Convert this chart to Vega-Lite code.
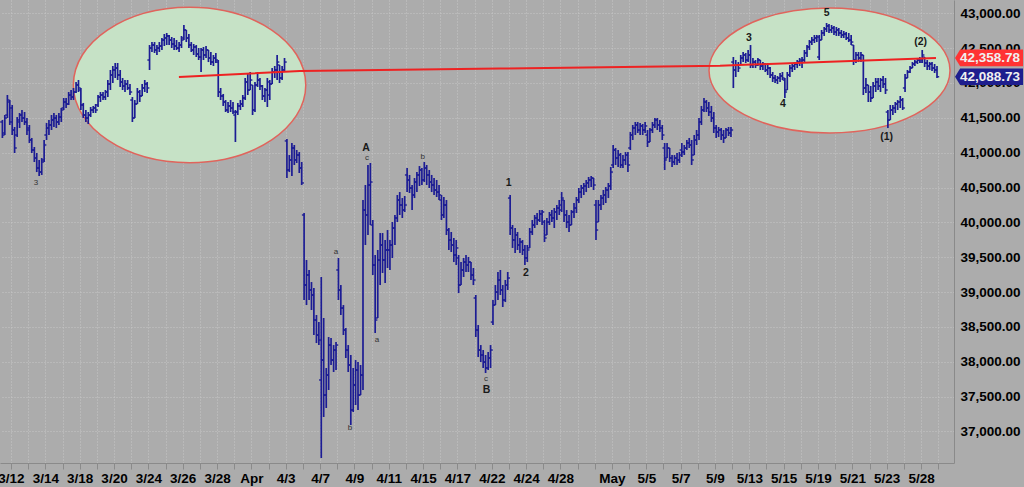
{
"$schema":"https://vega.github.io/schema/vega-lite/v6.json",
"width":954,"height":463,
"autosize":{"type":"none"},
"padding":{"left":0,"top":0,"right":70,"bottom":24},
"background":"#acacac",
"config":{"view":{"stroke":null},"font":"Liberation Sans"},
"datasets":{
"ellL":[{"t":10.4,"p":41971}],
"ellR":[{"t":47.67,"p":42179}],
"trend":[{"t":9.78,"p":42085},{"t":16.83,"p":42171},{"t":28.48,"p":42207},{"t":41.29,"p":42247},{"t":47.7,"p":42305},{"t":53.87,"p":42359}],
"big":[{"t":20.68,"p":41067,"s":"A"},{"t":28.99,"p":40565,"s":"1"},{"t":29.99,"p":39274,"s":"2"},{"t":27.7,"p":37595,"s":"B"},{"t":42.98,"p":42645,"s":"3"},{"t":44.96,"p":41698,"s":"4"},{"t":47.51,"p":43003,"s":"5"},{"t":51.0,"p":41225,"s":"(1)"},{"t":52.98,"p":42587,"s":"(2)"}],
"small":[{"t":1.46,"p":40565,"s":"3"},{"t":20.73,"p":40923,"s":"c"},{"t":18.93,"p":39575,"s":"a"},{"t":19.74,"p":37050,"s":"b"},{"t":21.32,"p":38312,"s":"a"},{"t":23.98,"p":40938,"s":"b"},{"t":27.66,"p":37753,"s":"c"}],
"tags":[{"p":42358.78,"s":"42,358.78","k":"trend"},{"p":42088.73,"s":"42,088.73","k":"last"}],
"bars":[
{"t":-0.5,"o":41440,"h":41469,"l":41210,"c":41253},{"t":-0.36,"o":41282,"h":41540,"l":41253,"c":41497},{"t":-0.21,"o":41540,"h":41827,"l":41497,"c":41755},{"t":-0.07,"o":41727,"h":41755,"l":41397,"c":41440},
{"t":0.07,"o":41641,"h":41684,"l":41253,"c":41325},{"t":0.21,"o":41325,"h":41368,"l":40995,"c":41067},{"t":0.36,"o":41253,"h":41511,"l":41225,"c":41469},{"t":0.5,"o":41440,"h":41569,"l":41354,"c":41540},{"t":0.64,"o":41540,"h":41612,"l":41440,"c":41497},{"t":0.79,"o":41497,"h":41583,"l":41397,"c":41440},{"t":0.93,"o":41440,"h":41497,"l":41253,"c":41325},
{"t":1.07,"o":41354,"h":41397,"l":41139,"c":41182},{"t":1.21,"o":41182,"h":41211,"l":40995,"c":41038},{"t":1.36,"o":41038,"h":41081,"l":40866,"c":40923},{"t":1.5,"o":40923,"h":40995,"l":40722,"c":40780},{"t":1.64,"o":40780,"h":40895,"l":40665,"c":40722},{"t":1.79,"o":40722,"h":40923,"l":40680,"c":40866},{"t":1.93,"o":40895,"h":41182,"l":40866,"c":41110},
{"t":2.07,"o":41253,"h":41426,"l":41182,"c":41354},{"t":2.21,"o":41354,"h":41469,"l":41253,"c":41397},{"t":2.36,"o":41397,"h":41540,"l":41325,"c":41469},{"t":2.5,"o":41469,"h":41569,"l":41368,"c":41497},{"t":2.64,"o":41497,"h":41540,"l":41354,"c":41440},{"t":2.79,"o":41440,"h":41569,"l":41397,"c":41511},{"t":2.93,"o":41511,"h":41641,"l":41440,"c":41612},
{"t":3.07,"o":41641,"h":41784,"l":41612,"c":41727},{"t":3.21,"o":41727,"h":41784,"l":41641,"c":41698},{"t":3.36,"o":41698,"h":41870,"l":41684,"c":41827},{"t":3.5,"o":41827,"h":41899,"l":41755,"c":41798},{"t":3.64,"o":41798,"h":41928,"l":41755,"c":41870},{"t":3.79,"o":41870,"h":42014,"l":41856,"c":41971},{"t":3.93,"o":41971,"h":42042,"l":41870,"c":41928},
{"t":4.07,"o":41899,"h":41928,"l":41612,"c":41684},{"t":4.21,"o":41684,"h":41713,"l":41497,"c":41540},{"t":4.36,"o":41540,"h":41612,"l":41440,"c":41497},{"t":4.5,"o":41497,"h":41583,"l":41411,"c":41540},{"t":4.64,"o":41540,"h":41655,"l":41511,"c":41612},{"t":4.79,"o":41612,"h":41670,"l":41569,"c":41641},{"t":4.93,"o":41641,"h":41698,"l":41569,"c":41612},
{"t":5.07,"o":41684,"h":41827,"l":41655,"c":41798},{"t":5.21,"o":41798,"h":41870,"l":41727,"c":41827},{"t":5.36,"o":41827,"h":41870,"l":41755,"c":41798},{"t":5.5,"o":41798,"h":41899,"l":41755,"c":41870},{"t":5.64,"o":41870,"h":42042,"l":41798,"c":41985},{"t":5.79,"o":41985,"h":42186,"l":41899,"c":42114},{"t":5.93,"o":42114,"h":42243,"l":41999,"c":42186},
{"t":6.07,"o":42186,"h":42286,"l":42071,"c":42214},{"t":6.21,"o":42214,"h":42286,"l":42042,"c":42114},{"t":6.36,"o":42114,"h":42186,"l":41942,"c":42014},{"t":6.5,"o":42014,"h":42071,"l":41899,"c":41956},{"t":6.64,"o":41956,"h":42042,"l":41870,"c":41985},{"t":6.79,"o":41985,"h":42042,"l":41899,"c":41928},{"t":6.93,"o":41928,"h":41985,"l":41827,"c":41870},
{"t":7.07,"o":41755,"h":41798,"l":41440,"c":41497},{"t":7.21,"o":41497,"h":41755,"l":41497,"c":41698},{"t":7.36,"o":41698,"h":41928,"l":41698,"c":41870},{"t":7.5,"o":41870,"h":41899,"l":41727,"c":41813},{"t":7.64,"o":41813,"h":41985,"l":41813,"c":41928},{"t":7.79,"o":41928,"h":42042,"l":41870,"c":41985},{"t":7.93,"o":41985,"h":42014,"l":41856,"c":41928},
{"t":8.07,"o":42329,"h":42544,"l":42186,"c":42501},{"t":8.21,"o":42501,"h":42587,"l":42444,"c":42544},{"t":8.36,"o":42544,"h":42587,"l":42430,"c":42473},{"t":8.5,"o":42473,"h":42544,"l":42401,"c":42501},{"t":8.64,"o":42501,"h":42587,"l":42444,"c":42530},{"t":8.79,"o":42530,"h":42645,"l":42473,"c":42616},{"t":8.93,"o":42616,"h":42702,"l":42530,"c":42645},
{"t":9.07,"o":42645,"h":42717,"l":42544,"c":42674},{"t":9.21,"o":42674,"h":42688,"l":42544,"c":42616},{"t":9.36,"o":42616,"h":42659,"l":42501,"c":42559},{"t":9.5,"o":42559,"h":42645,"l":42473,"c":42530},{"t":9.64,"o":42530,"h":42616,"l":42473,"c":42501},{"t":9.79,"o":42501,"h":42587,"l":42444,"c":42544},{"t":9.93,"o":42544,"h":42674,"l":42501,"c":42616},
{"t":10.07,"o":42645,"h":42831,"l":42616,"c":42760},{"t":10.21,"o":42760,"h":42760,"l":42587,"c":42645},{"t":10.36,"o":42645,"h":42702,"l":42501,"c":42544},{"t":10.5,"o":42544,"h":42587,"l":42444,"c":42473},{"t":10.64,"o":42473,"h":42559,"l":42401,"c":42516},{"t":10.79,"o":42516,"h":42544,"l":42372,"c":42415},{"t":10.93,"o":42415,"h":42501,"l":42329,"c":42372},
{"t":11.07,"o":42372,"h":42501,"l":42157,"c":42473},{"t":11.21,"o":42473,"h":42516,"l":42329,"c":42401},{"t":11.36,"o":42401,"h":42530,"l":42358,"c":42473},{"t":11.5,"o":42473,"h":42473,"l":42300,"c":42358},{"t":11.64,"o":42358,"h":42444,"l":42258,"c":42300},{"t":11.79,"o":42300,"h":42401,"l":42243,"c":42358},{"t":11.93,"o":42358,"h":42430,"l":42286,"c":42329},
{"t":12.07,"o":42300,"h":42329,"l":41798,"c":41870},{"t":12.21,"o":41870,"h":41928,"l":41755,"c":41813},{"t":12.36,"o":41813,"h":41842,"l":41670,"c":41727},{"t":12.5,"o":41727,"h":41755,"l":41583,"c":41612},{"t":12.64,"o":41612,"h":41727,"l":41569,"c":41670},{"t":12.79,"o":41670,"h":41755,"l":41583,"c":41641},{"t":12.93,"o":41641,"h":41727,"l":41554,"c":41583},
{"t":13.07,"o":41540,"h":41612,"l":41153,"c":41583},{"t":13.21,"o":41583,"h":41713,"l":41540,"c":41670},{"t":13.36,"o":41670,"h":41755,"l":41612,"c":41698},{"t":13.5,"o":41698,"h":41827,"l":41655,"c":41784},{"t":13.64,"o":41784,"h":42071,"l":41755,"c":42014},{"t":13.79,"o":42014,"h":42143,"l":41827,"c":41899},{"t":13.93,"o":41899,"h":42157,"l":41899,"c":42042},
{"t":14.07,"o":41971,"h":41971,"l":41540,"c":41612},{"t":14.21,"o":41612,"h":42014,"l":41583,"c":41971},{"t":14.36,"o":41971,"h":42157,"l":41942,"c":42042},{"t":14.5,"o":42042,"h":42071,"l":41899,"c":41956},{"t":14.64,"o":41956,"h":41971,"l":41755,"c":41813},{"t":14.79,"o":41813,"h":41928,"l":41727,"c":41899},{"t":14.93,"o":41899,"h":42071,"l":41655,"c":42014},
{"t":15.07,"o":41827,"h":42042,"l":41755,"c":41985},{"t":15.21,"o":41985,"h":42214,"l":41985,"c":42157},{"t":15.36,"o":42157,"h":42243,"l":42071,"c":42186},{"t":15.5,"o":42186,"h":42401,"l":42042,"c":42300},{"t":15.64,"o":42258,"h":42258,"l":41999,"c":42071},{"t":15.79,"o":42071,"h":42243,"l":42042,"c":42186},{"t":15.93,"o":42186,"h":42358,"l":42157,"c":42300},
{"t":16.07,"o":41168,"h":41196,"l":40636,"c":40751},{"t":16.21,"o":40751,"h":40966,"l":40722,"c":40895},{"t":16.36,"o":40895,"h":41139,"l":40665,"c":41067},{"t":16.5,"o":41067,"h":41110,"l":40823,"c":40895},{"t":16.64,"o":40895,"h":41038,"l":40852,"c":40966},{"t":16.79,"o":40966,"h":41009,"l":40708,"c":40780},{"t":16.93,"o":40780,"h":40866,"l":40536,"c":40565},
{"t":17.07,"o":40106,"h":40134,"l":38886,"c":39101},{"t":17.21,"o":39101,"h":39460,"l":38814,"c":39245},{"t":17.36,"o":39245,"h":39317,"l":38886,"c":39030},{"t":17.5,"o":39030,"h":39144,"l":38743,"c":38958},{"t":17.64,"o":38958,"h":39058,"l":38384,"c":38599},{"t":17.79,"o":38599,"h":38671,"l":38269,"c":38384},{"t":17.93,"o":38384,"h":38570,"l":38240,"c":38312},
{"t":18.07,"o":37739,"h":39216,"l":36620,"c":38025},{"t":18.21,"o":38025,"h":38628,"l":37208,"c":37523},{"t":18.36,"o":37523,"h":37911,"l":37337,"c":37810},{"t":18.5,"o":37810,"h":38355,"l":37595,"c":38240},{"t":18.64,"o":38240,"h":38341,"l":37954,"c":38025},{"t":18.79,"o":38025,"h":38240,"l":37853,"c":38169},{"t":18.93,"o":38169,"h":38283,"l":37882,"c":38240},
{"t":19.07,"o":39317,"h":39489,"l":38886,"c":39030},{"t":19.21,"o":39030,"h":39101,"l":38671,"c":38771},{"t":19.36,"o":38771,"h":38814,"l":38384,"c":38456},{"t":19.5,"o":38456,"h":38484,"l":38054,"c":38169},{"t":19.64,"o":38169,"h":38240,"l":37853,"c":37954},{"t":19.79,"o":37954,"h":38097,"l":37093,"c":37308},{"t":19.93,"o":37308,"h":37911,"l":37280,"c":37667},
{"t":20.07,"o":37667,"h":38025,"l":37380,"c":37882},{"t":20.21,"o":37882,"h":37996,"l":37308,"c":37523},{"t":20.36,"o":37523,"h":37954,"l":37523,"c":37810},{"t":20.5,"o":37810,"h":40321,"l":37595,"c":40177},{"t":20.64,"o":40177,"h":40536,"l":39675,"c":40106},{"t":20.79,"o":40106,"h":40823,"l":39819,"c":40536},{"t":20.93,"o":40536,"h":40852,"l":39962,"c":40579},
{"t":21.07,"o":39962,"h":40034,"l":39245,"c":39388},{"t":21.21,"o":39388,"h":39532,"l":38413,"c":38599},{"t":21.36,"o":38628,"h":39604,"l":38628,"c":39460},{"t":21.5,"o":39460,"h":39847,"l":39101,"c":39675},{"t":21.64,"o":39675,"h":39847,"l":39274,"c":39460},{"t":21.79,"o":39460,"h":39747,"l":39130,"c":39604},{"t":21.93,"o":39604,"h":39890,"l":39345,"c":39604},
{"t":22.07,"o":39604,"h":39747,"l":39317,"c":39675},{"t":22.21,"o":39675,"h":40005,"l":39489,"c":39919},{"t":22.36,"o":39919,"h":40106,"l":39675,"c":40063},{"t":22.5,"o":40063,"h":40393,"l":40005,"c":40321},{"t":22.64,"o":40321,"h":40435,"l":40106,"c":40249},{"t":22.79,"o":40249,"h":40349,"l":40063,"c":40177},{"t":22.93,"o":40177,"h":40378,"l":40149,"c":40249},
{"t":23.07,"o":40680,"h":40780,"l":40435,"c":40608},{"t":23.21,"o":40608,"h":40680,"l":40421,"c":40493},{"t":23.36,"o":40493,"h":40536,"l":40177,"c":40393},{"t":23.5,"o":40393,"h":40636,"l":40349,"c":40579},{"t":23.64,"o":40579,"h":40722,"l":40435,"c":40680},{"t":23.79,"o":40680,"h":40808,"l":40522,"c":40751},{"t":23.93,"o":40751,"h":40780,"l":40536,"c":40608},
{"t":24.07,"o":40608,"h":40866,"l":40579,"c":40780},{"t":24.21,"o":40780,"h":40823,"l":40536,"c":40680},{"t":24.36,"o":40680,"h":40751,"l":40493,"c":40579},{"t":24.5,"o":40579,"h":40680,"l":40435,"c":40536},{"t":24.64,"o":40536,"h":40636,"l":40393,"c":40464},{"t":24.79,"o":40464,"h":40608,"l":40364,"c":40435},{"t":24.93,"o":40435,"h":40536,"l":40321,"c":40393},
{"t":25.07,"o":40321,"h":40393,"l":40034,"c":40106},{"t":25.21,"o":40106,"h":40364,"l":40063,"c":40249},{"t":25.36,"o":40249,"h":40321,"l":39819,"c":39890},{"t":25.5,"o":39890,"h":39919,"l":39604,"c":39747},{"t":25.64,"o":39747,"h":39862,"l":39575,"c":39675},{"t":25.79,"o":39675,"h":39776,"l":39431,"c":39532},{"t":25.93,"o":39532,"h":39747,"l":39388,"c":39633},
{"t":26.07,"o":39489,"h":39532,"l":38986,"c":39101},{"t":26.21,"o":39101,"h":39431,"l":39101,"c":39317},{"t":26.36,"o":39317,"h":39489,"l":39216,"c":39431},{"t":26.5,"o":39431,"h":39532,"l":39288,"c":39388},{"t":26.64,"o":39388,"h":39503,"l":39288,"c":39431},{"t":26.79,"o":39431,"h":39431,"l":39173,"c":39245},{"t":26.93,"o":39245,"h":39345,"l":39101,"c":39173},
{"t":27.07,"o":38915,"h":38958,"l":38355,"c":38456},{"t":27.21,"o":38456,"h":38527,"l":38068,"c":38169},{"t":27.36,"o":38169,"h":38240,"l":37996,"c":38097},{"t":27.5,"o":38097,"h":38169,"l":37911,"c":37996},{"t":27.64,"o":37996,"h":38097,"l":37839,"c":37911},{"t":27.79,"o":37911,"h":38140,"l":37882,"c":38054},{"t":27.93,"o":38054,"h":38240,"l":37911,"c":38169},
{"t":28.07,"o":38570,"h":38886,"l":38527,"c":38814},{"t":28.21,"o":38814,"h":39101,"l":38814,"c":39001},{"t":28.36,"o":39001,"h":39288,"l":38886,"c":39173},{"t":28.5,"o":39173,"h":39317,"l":38958,"c":39030},{"t":28.64,"o":39030,"h":39101,"l":38786,"c":38886},{"t":28.79,"o":38886,"h":39173,"l":38857,"c":39101},{"t":28.93,"o":39101,"h":39288,"l":39030,"c":39202},
{"t":29.07,"o":40349,"h":40393,"l":39819,"c":39919},{"t":29.21,"o":39919,"h":39962,"l":39633,"c":39747},{"t":29.36,"o":39747,"h":39919,"l":39560,"c":39819},{"t":29.5,"o":39819,"h":39862,"l":39604,"c":39675},{"t":29.64,"o":39675,"h":39776,"l":39560,"c":39718},{"t":29.79,"o":39718,"h":39747,"l":39532,"c":39604},{"t":29.93,"o":39604,"h":39675,"l":39388,"c":39489},
{"t":30.07,"o":39489,"h":39675,"l":39431,"c":39604},{"t":30.21,"o":39633,"h":39919,"l":39633,"c":39862},{"t":30.36,"o":39862,"h":40034,"l":39819,"c":39962},{"t":30.5,"o":39962,"h":40106,"l":39919,"c":40063},{"t":30.64,"o":40063,"h":40134,"l":39962,"c":40034},{"t":30.79,"o":40034,"h":40177,"l":40005,"c":40120},{"t":30.93,"o":40120,"h":40177,"l":39962,"c":40149},
{"t":31.07,"o":40005,"h":40034,"l":39718,"c":39776},{"t":31.21,"o":39819,"h":40063,"l":39819,"c":40005},{"t":31.36,"o":40005,"h":40149,"l":39962,"c":40106},{"t":31.5,"o":40106,"h":40177,"l":40005,"c":40063},{"t":31.64,"o":40063,"h":40206,"l":39919,"c":40149},{"t":31.79,"o":40149,"h":40249,"l":40034,"c":40206},{"t":31.93,"o":40206,"h":40321,"l":40106,"c":40177},
{"t":32.07,"o":40249,"h":40435,"l":40149,"c":40349},{"t":32.21,"o":40321,"h":40321,"l":40005,"c":40106},{"t":32.36,"o":40106,"h":40177,"l":39919,"c":40005},{"t":32.5,"o":40005,"h":40106,"l":39862,"c":39962},{"t":32.64,"o":39962,"h":40177,"l":39962,"c":40149},{"t":32.79,"o":40149,"h":40278,"l":40063,"c":40206},{"t":32.93,"o":40206,"h":40364,"l":40134,"c":40321},
{"t":33.07,"o":40321,"h":40493,"l":40278,"c":40435},{"t":33.21,"o":40435,"h":40536,"l":40349,"c":40493},{"t":33.36,"o":40493,"h":40565,"l":40393,"c":40522},{"t":33.5,"o":40522,"h":40608,"l":40435,"c":40565},{"t":33.64,"o":40565,"h":40651,"l":40493,"c":40608},{"t":33.79,"o":40608,"h":40665,"l":40507,"c":40636},{"t":33.93,"o":40636,"h":40636,"l":40464,"c":40536},
{"t":34.07,"o":40249,"h":40321,"l":39747,"c":39890},{"t":34.21,"o":40005,"h":40321,"l":40005,"c":40249},{"t":34.36,"o":40249,"h":40393,"l":40177,"c":40349},{"t":34.5,"o":40349,"h":40464,"l":40249,"c":40393},{"t":34.64,"o":40393,"h":40507,"l":40278,"c":40464},{"t":34.79,"o":40464,"h":40565,"l":40349,"c":40522},{"t":34.93,"o":40522,"h":40794,"l":40464,"c":40722},
{"t":35.07,"o":40823,"h":41110,"l":40780,"c":41038},{"t":35.21,"o":41038,"h":41067,"l":40823,"c":40923},{"t":35.36,"o":40923,"h":41038,"l":40794,"c":40966},{"t":35.5,"o":40966,"h":40995,"l":40780,"c":40823},{"t":35.64,"o":40823,"h":40966,"l":40780,"c":40895},{"t":35.79,"o":40895,"h":41009,"l":40823,"c":40966},{"t":35.93,"o":40966,"h":41009,"l":40722,"c":40823},
{"t":36.07,"o":41067,"h":41296,"l":41038,"c":41253},{"t":36.21,"o":41253,"h":41397,"l":41182,"c":41354},{"t":36.36,"o":41354,"h":41440,"l":41253,"c":41397},{"t":36.5,"o":41397,"h":41440,"l":41282,"c":41325},{"t":36.64,"o":41325,"h":41426,"l":41253,"c":41383},{"t":36.79,"o":41383,"h":41411,"l":41253,"c":41325},{"t":36.93,"o":41325,"h":41440,"l":41282,"c":41383},
{"t":37.07,"o":41253,"h":41325,"l":41081,"c":41153},{"t":37.21,"o":41153,"h":41354,"l":41153,"c":41325},{"t":37.36,"o":41325,"h":41440,"l":41282,"c":41397},{"t":37.5,"o":41397,"h":41497,"l":41354,"c":41469},{"t":37.64,"o":41469,"h":41497,"l":41325,"c":41397},{"t":37.79,"o":41397,"h":41469,"l":41296,"c":41354},{"t":37.93,"o":41354,"h":41397,"l":41182,"c":41253},
{"t":38.07,"o":41067,"h":41139,"l":40751,"c":40895},{"t":38.21,"o":40923,"h":41139,"l":40923,"c":41067},{"t":38.36,"o":41067,"h":41067,"l":40866,"c":40923},{"t":38.5,"o":40923,"h":40966,"l":40794,"c":40866},{"t":38.64,"o":40866,"h":40966,"l":40823,"c":40923},{"t":38.79,"o":40923,"h":40995,"l":40823,"c":40895},{"t":38.93,"o":40895,"h":41009,"l":40852,"c":40966},
{"t":39.07,"o":41038,"h":41139,"l":40938,"c":41009},{"t":39.21,"o":41009,"h":41110,"l":40966,"c":41067},{"t":39.36,"o":41067,"h":41182,"l":41038,"c":41139},{"t":39.5,"o":41139,"h":41211,"l":41067,"c":41110},{"t":39.64,"o":41110,"h":41182,"l":40823,"c":40895},{"t":39.79,"o":40966,"h":41253,"l":40966,"c":41182},{"t":39.93,"o":41182,"h":41325,"l":41110,"c":41253},
{"t":40.07,"o":41253,"h":41497,"l":41182,"c":41440},{"t":40.21,"o":41440,"h":41670,"l":41397,"c":41612},{"t":40.36,"o":41612,"h":41784,"l":41583,"c":41727},{"t":40.5,"o":41727,"h":41755,"l":41583,"c":41641},{"t":40.64,"o":41641,"h":41727,"l":41526,"c":41583},{"t":40.79,"o":41583,"h":41670,"l":41440,"c":41497},{"t":40.93,"o":41497,"h":41583,"l":41282,"c":41354},
{"t":41.07,"o":41354,"h":41397,"l":41211,"c":41296},{"t":41.21,"o":41296,"h":41368,"l":41225,"c":41325},{"t":41.36,"o":41325,"h":41354,"l":41182,"c":41253},{"t":41.5,"o":41253,"h":41325,"l":41139,"c":41211},{"t":41.64,"o":41211,"h":41354,"l":41211,"c":41325},{"t":41.79,"o":41325,"h":41368,"l":41239,"c":41282},{"t":41.93,"o":41282,"h":41368,"l":41225,"c":41325},
{"t":42.07,"o":42300,"h":42372,"l":41927,"c":42186},{"t":42.21,"o":42186,"h":42329,"l":42085,"c":42258},{"t":42.36,"o":42258,"h":42300,"l":42157,"c":42214},{"t":42.5,"o":42258,"h":42401,"l":42258,"c":42358},{"t":42.64,"o":42358,"h":42444,"l":42300,"c":42401},{"t":42.79,"o":42401,"h":42430,"l":42286,"c":42329},{"t":42.93,"o":42329,"h":42473,"l":42300,"c":42401},
{"t":43.07,"o":42401,"h":42544,"l":42214,"c":42258},{"t":43.21,"o":42258,"h":42358,"l":42214,"c":42300},{"t":43.36,"o":42300,"h":42329,"l":42214,"c":42258},{"t":43.5,"o":42258,"h":42358,"l":42243,"c":42329},{"t":43.64,"o":42329,"h":42329,"l":42186,"c":42243},{"t":43.79,"o":42243,"h":42300,"l":42186,"c":42272},{"t":43.93,"o":42272,"h":42286,"l":42157,"c":42186},
{"t":44.07,"o":42186,"h":42286,"l":42114,"c":42214},{"t":44.21,"o":42214,"h":42229,"l":42071,"c":42114},{"t":44.36,"o":42114,"h":42157,"l":42014,"c":42071},{"t":44.5,"o":42071,"h":42114,"l":41999,"c":42042},{"t":44.64,"o":42042,"h":42100,"l":41985,"c":42071},{"t":44.79,"o":42071,"h":42143,"l":42014,"c":42100},{"t":44.93,"o":42100,"h":42157,"l":42042,"c":42071},
{"t":45.07,"o":42042,"h":42071,"l":41784,"c":41870},{"t":45.21,"o":41899,"h":42157,"l":41899,"c":42114},{"t":45.36,"o":42114,"h":42258,"l":42085,"c":42214},{"t":45.5,"o":42214,"h":42286,"l":42157,"c":42243},{"t":45.64,"o":42243,"h":42300,"l":42186,"c":42272},{"t":45.79,"o":42272,"h":42329,"l":42214,"c":42300},{"t":45.93,"o":42300,"h":42358,"l":42243,"c":42329},
{"t":46.07,"o":42300,"h":42372,"l":42214,"c":42329},{"t":46.21,"o":42329,"h":42473,"l":42300,"c":42430},{"t":46.36,"o":42430,"h":42544,"l":42372,"c":42516},{"t":46.5,"o":42516,"h":42616,"l":42473,"c":42587},{"t":46.64,"o":42587,"h":42659,"l":42544,"c":42616},{"t":46.79,"o":42616,"h":42688,"l":42573,"c":42645},{"t":46.93,"o":42645,"h":42688,"l":42587,"c":42659},
{"t":47.07,"o":42372,"h":42688,"l":42329,"c":42616},{"t":47.21,"o":42616,"h":42760,"l":42616,"c":42717},{"t":47.36,"o":42717,"h":42803,"l":42674,"c":42774},{"t":47.5,"o":42774,"h":42860,"l":42731,"c":42817},{"t":47.64,"o":42817,"h":42846,"l":42717,"c":42760},{"t":47.79,"o":42760,"h":42831,"l":42717,"c":42788},{"t":47.93,"o":42788,"h":42817,"l":42688,"c":42731},
{"t":48.07,"o":42731,"h":42803,"l":42674,"c":42760},{"t":48.21,"o":42760,"h":42788,"l":42674,"c":42717},{"t":48.36,"o":42717,"h":42760,"l":42645,"c":42688},{"t":48.5,"o":42688,"h":42745,"l":42645,"c":42702},{"t":48.64,"o":42702,"h":42731,"l":42616,"c":42645},{"t":48.79,"o":42645,"h":42717,"l":42587,"c":42616},{"t":48.93,"o":42616,"h":42688,"l":42544,"c":42587},
{"t":49.07,"o":42544,"h":42544,"l":42258,"c":42329},{"t":49.21,"o":42329,"h":42444,"l":42286,"c":42401},{"t":49.36,"o":42401,"h":42444,"l":42300,"c":42358},{"t":49.5,"o":42358,"h":42444,"l":42300,"c":42401},{"t":49.64,"o":42401,"h":42401,"l":41827,"c":41928},{"t":49.79,"o":41928,"h":42071,"l":41856,"c":41971},{"t":49.93,"o":41971,"h":41971,"l":41727,"c":41870},
{"t":50.07,"o":41870,"h":41956,"l":41727,"c":41784},{"t":50.21,"o":41784,"h":42014,"l":41784,"c":41956},{"t":50.36,"o":41956,"h":42071,"l":41870,"c":42014},{"t":50.5,"o":42014,"h":42071,"l":41899,"c":41956},{"t":50.64,"o":41956,"h":42071,"l":41870,"c":42042},{"t":50.79,"o":42042,"h":42100,"l":41928,"c":41985},{"t":50.93,"o":41985,"h":42071,"l":41842,"c":41899},
{"t":51.07,"o":41583,"h":41612,"l":41354,"c":41469},{"t":51.21,"o":41469,"h":41684,"l":41469,"c":41612},{"t":51.36,"o":41612,"h":41684,"l":41540,"c":41641},{"t":51.5,"o":41641,"h":41727,"l":41569,"c":41698},{"t":51.64,"o":41698,"h":41755,"l":41612,"c":41727},{"t":51.79,"o":41727,"h":41813,"l":41641,"c":41755},{"t":51.93,"o":41755,"h":41784,"l":41612,"c":41641},
{"t":52.07,"o":41928,"h":42128,"l":41870,"c":42071},{"t":52.21,"o":42071,"h":42186,"l":42071,"c":42157},{"t":52.36,"o":42157,"h":42243,"l":42143,"c":42214},{"t":52.5,"o":42214,"h":42300,"l":42214,"c":42272},{"t":52.64,"o":42272,"h":42329,"l":42243,"c":42300},{"t":52.79,"o":42300,"h":42344,"l":42272,"c":42329},{"t":52.93,"o":42329,"h":42372,"l":42286,"c":42300},
{"t":53.07,"o":42329,"h":42473,"l":42286,"c":42401},{"t":53.21,"o":42372,"h":42372,"l":42229,"c":42286},{"t":53.36,"o":42286,"h":42329,"l":42186,"c":42243},{"t":53.5,"o":42243,"h":42300,"l":42186,"c":42272},{"t":53.64,"o":42272,"h":42300,"l":42171,"c":42214},{"t":53.79,"o":42214,"h":42272,"l":42143,"c":42186},{"t":53.93,"o":42186,"h":42243,"l":42071,"c":42088.73}
]
},
"layer":[
{"data":{"name":"ellL"},
 "mark":{"type":"point","shape":"M-1,0C-1,-0.3693,-0.5523,-0.6687,0,-0.6687C0.5523,-0.6687,1,-0.3693,1,0C1,0.3693,0.5523,0.6687,0,0.6687C-0.5523,0.6687,-1,0.3693,-1,0Z","size":54010,"filled":true,"fill":"#c6e2c6","stroke":"#e0645c","strokeWidth":1.5,"opacity":1,"fillOpacity":1,"strokeOpacity":1},
 "encoding":{
  "x":{"field":"t","type":"quantitative","title":null,"scale":{"domain":[-0.64,54.92],"nice":false,"zero":false},
   "axis":{"orient":"bottom","tickCount":100,"values":[0,1,2,3,4,5,6,7,8,9,10,11,12,13,14,15,16,17,18,19,20,21,22,23,24,25,26,27,28,29,30,31,32,33,34,35,36,37,38,39,40,41,42,43,44,45,46,47,48,49,50,51,52,53,54],
   "labelExpr":"['3/12','','3/14','','3/18','','3/20','','3/24','','3/26','','3/28','','Apr','','4/3','','4/7','','4/9','','4/11','','4/15','','4/17','','4/22','','4/24','','4/28','','','May','','5/5','','5/7','','5/9','','5/13','','5/15','','5/19','','5/21','','5/23','','5/28',''][datum.value]",
   "grid":true,"gridColor":"#c6c6c6","gridDash":[1,2],"gridWidth":1,"domain":true,"domainColor":"#8a8a8a","ticks":true,"tickColor":"#8a8a8a","tickSize":6,"labelFontSize":13.5,"labelFontWeight":"bold","labelColor":"#000000","labelFont":"Liberation Sans","labelPadding":2,"labelOverlap":false,"labelFlush":false,"labelBound":false,"zindex":0}},
  "y":{"field":"p","type":"quantitative","title":null,"scale":{"domain":[36548,43190],"nice":false,"zero":false},
   "axis":{"orient":"right","tickCount":100,"values":[37000,37500,38000,38500,39000,39500,40000,40500,41000,41500,42000,42500,43000],"format":",.2f",
   "grid":true,"gridColor":"#c6c6c6","gridDash":[1,2],"gridWidth":1,"domain":true,"domainColor":"#8a8a8a","ticks":false,"labelFontSize":13.5,"labelFontWeight":"bold","labelColor":"#000000","labelFont":"Liberation Sans","labelPadding":6,"labelOverlap":false,"labelFlush":false,"labelBound":false,"zindex":0}}}},
{"data":{"name":"ellR"},
 "mark":{"type":"point","shape":"M-1,0C-1,-0.2865,-0.5523,-0.5187,0,-0.5187C0.5523,-0.5187,1,-0.2865,1,0C1,0.2865,0.5523,0.5187,0,0.5187C-0.5523,0.5187,-1,0.2865,-1,0Z","size":58081,"filled":true,"fill":"#c6e2c6","stroke":"#e0645c","strokeWidth":1.5,"opacity":1,"fillOpacity":1,"strokeOpacity":1},
 "encoding":{
  "x":{"field":"t","type":"quantitative","title":null,"scale":{"domain":[-0.64,54.92],"nice":false,"zero":false}},
  "y":{"field":"p","type":"quantitative","title":null,"scale":{"domain":[36548,43190],"nice":false,"zero":false}}}},
{"data":{"name":"bars"},
 "encoding":{"x":{"field":"t","type":"quantitative","title":null,"scale":{"domain":[-0.64,54.92],"nice":false,"zero":false}}},
 "layer":[
  {"mark":{"type":"rule","color":"#1c1c94","strokeWidth":1.7},
   "encoding":{"y":{"field":"l","type":"quantitative","title":null,"scale":{"domain":[36548,43190],"nice":false,"zero":false}},"y2":{"field":"h"}}},
  {"mark":{"type":"rule","color":"#1c1c94","strokeWidth":1.4,"xOffset":-2.2},
   "encoding":{"x2":{"field":"t"},"y":{"field":"o","type":"quantitative","title":null,"scale":{"domain":[36548,43190],"nice":false,"zero":false}}}},
  {"mark":{"type":"rule","color":"#1c1c94","strokeWidth":1.4,"x2Offset":2.2},
   "encoding":{"x2":{"field":"t"},"y":{"field":"c","type":"quantitative","title":null,"scale":{"domain":[36548,43190],"nice":false,"zero":false}}}}
 ]},
{"data":{"name":"trend"},
 "mark":{"type":"line","color":"#ee2222","strokeWidth":2},
 "encoding":{
  "x":{"field":"t","type":"quantitative","title":null,"scale":{"domain":[-0.64,54.92],"nice":false,"zero":false}},
  "y":{"field":"p","type":"quantitative","title":null,"scale":{"domain":[36548,43190],"nice":false,"zero":false}}}},
{"data":{"name":"big"},
 "mark":{"type":"text","fontSize":10.5,"fontWeight":"bold","color":"#1a1a1a","font":"Liberation Sans","align":"center","baseline":"middle"},
 "encoding":{
  "x":{"field":"t","type":"quantitative","title":null,"scale":{"domain":[-0.64,54.92],"nice":false,"zero":false}},
  "y":{"field":"p","type":"quantitative","title":null,"scale":{"domain":[36548,43190],"nice":false,"zero":false}},
  "text":{"field":"s"}}},
{"data":{"name":"small"},
 "mark":{"type":"text","fontSize":8,"color":"#333333","font":"Liberation Sans","align":"center","baseline":"middle"},
 "encoding":{
  "x":{"field":"t","type":"quantitative","title":null,"scale":{"domain":[-0.64,54.92],"nice":false,"zero":false}},
  "y":{"field":"p","type":"quantitative","title":null,"scale":{"domain":[36548,43190],"nice":false,"zero":false}},
  "text":{"field":"s"}}},
{"data":{"name":"tags"},
 "mark":{"type":"point","shape":"M-1,0L-0.85,-0.245L1,-0.245L1,0.245L-0.85,0.245Z","size":4624,"filled":true,"opacity":1,"strokeWidth":0},
 "encoding":{
  "x":{"datum":56.96,"type":"quantitative","scale":{"domain":[-0.64,54.92],"nice":false,"zero":false}},
  "y":{"field":"p","type":"quantitative","title":null,"scale":{"domain":[36548,43190],"nice":false,"zero":false}},
  "color":{"field":"k","type":"nominal","scale":{"domain":["trend","last"],"range":["#ff3333","#1e1e8e"]},"legend":null}}},
{"data":{"name":"tags"},
 "mark":{"type":"text","fontSize":13.5,"fontWeight":"bold","color":"#f0f0f0","font":"Liberation Sans","align":"center","baseline":"middle","dx":1},
 "encoding":{
  "x":{"datum":56.96,"type":"quantitative","scale":{"domain":[-0.64,54.92],"nice":false,"zero":false}},
  "y":{"field":"p","type":"quantitative","title":null,"scale":{"domain":[36548,43190],"nice":false,"zero":false}},
  "text":{"field":"s"}}}
]
}
